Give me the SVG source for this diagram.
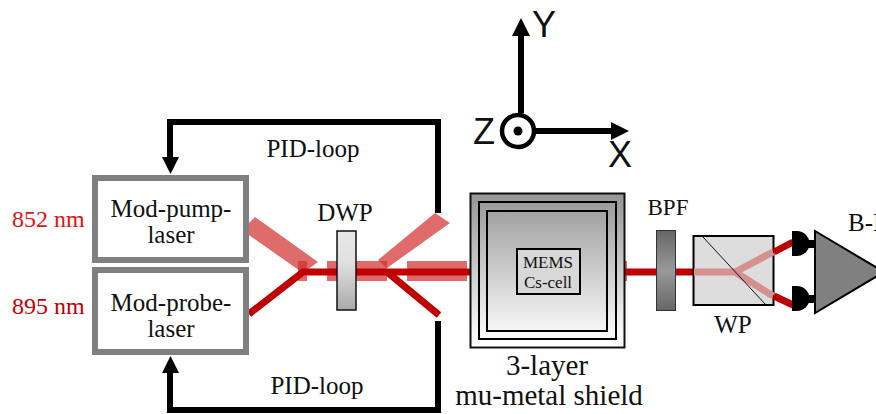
<svg xmlns="http://www.w3.org/2000/svg" width="876" height="414" viewBox="0 0 876 414">
<style>
text{font-family:"Liberation Serif","DejaVu Serif",serif;font-size:25px;fill:#111;text-anchor:middle}
.ax{font-family:"Liberation Sans","DejaVu Sans",sans-serif;font-size:36px;text-anchor:start}
.nm{text-anchor:start;font-size:24px}
.big{font-size:29px}
.small{font-size:17px}
.laser{fill:#fff;stroke:#808080;stroke-width:6}
.fb{fill:none;stroke:#000;stroke-width:6}
.thin{fill:none;stroke:#c00000;stroke-width:7}
.thick{fill:#d22c2c;fill-opacity:.7}
.pale{fill:none;stroke:#d69090;stroke-width:7}
.sh{fill:none;stroke:#000;stroke-width:2}
</style>
<defs>
<linearGradient id="gShield" x1="0" y1="0" x2="0" y2="1"><stop offset="0" stop-color="#959595"/><stop offset=".9" stop-color="#f8f8f8"/><stop offset="1" stop-color="#fff"/></linearGradient>
<linearGradient id="gDwp" x1="0" y1="0" x2="0" y2="1"><stop offset="0" stop-color="#e8e8e8"/><stop offset=".4" stop-color="#e0e0e0"/><stop offset="1" stop-color="#aaa"/></linearGradient>
<linearGradient id="gBpf" x1="0" y1="0" x2="0" y2="1"><stop offset="0" stop-color="#666"/><stop offset=".5" stop-color="#999"/><stop offset="1" stop-color="#666"/></linearGradient>
</defs>
<g id="connectors">
<path class="fb" d="M438 119V213M441 122H170V158"/>
<path d="M162 157H179L170.500 174Z"/>
<path class="fb" d="M438 321V413M441 410H170V372"/>
<path d="M162 373H179L170.500 356Z"/>
<g id="beams">
<polygon class="thick" points="255,217 318,262 303,273 246,233 246,226"/>
<rect class="thick" x="298" y="261" width="9" height="20"/>
<rect class="thick" x="327" y="261" width="60" height="20"/>
<rect class="thick" x="407" y="261" width="60" height="20"/>
<polygon class="thick" points="378,260 435,213 450,223 387,268"/>
<path class="thin" d="M249 314L303 272H470"/>
<path class="thin" d="M387 272L439 315"/>
<rect class="thick" x="625" y="261" width="2" height="20"/>
<path class="thin" d="M625 272H693"/>
</g>
<path d="M808 244H816M808 299H816" stroke="#000" stroke-width="8"/>
</g>
<g id="axes">
<path d="M521 113V35M536 131H612" fill="none" stroke="#000" stroke-width="6"/>
<path d="M512 36H530L521 18ZM611 122V140L629 131Z"/>
<circle cx="518" cy="131" r="16" fill="#fff" stroke="#000" stroke-width="4.500"/>
<circle cx="518" cy="131" r="4.500"/>
<text class="ax" x="532" y="37">Y</text>
<text class="ax" x="608" y="167">X</text>
<text class="ax" x="473" y="144">Z</text>
</g>
<g id="pump-laser"><rect class="laser" x="95" y="178" width="151" height="82"/>
<text x="171" y="217">Mod-pump-</text><text x="171" y="243">laser</text>
<text class="nm" x="12" y="227" style="fill:#e81010">852 nm</text></g>
<g id="probe-laser"><rect class="laser" x="95" y="270" width="151" height="82"/>
<text x="171" y="311">Mod-probe-</text><text x="171" y="337">laser</text>
<text class="nm" x="12" y="314" style="fill:#c00000">895 nm</text></g>
<g id="dwp"><rect x="337" y="231" width="19" height="79" fill="url(#gDwp)" stroke="#111" stroke-width="1.500"/>
<text x="345" y="221">DWP</text></g>
<g id="shield">
<rect x="470.500" y="193.500" width="154" height="154" fill="url(#gShield)" stroke="#111" stroke-width="2"/>
<rect class="sh" x="479" y="202" width="137" height="137"/>
<rect class="sh" x="487" y="211" width="120" height="120"/>
<text class="big" x="547" y="375">3-layer</text><text class="big" x="549" y="405">mu-metal shield</text>
</g>
<g id="cell"><rect x="517" y="249" width="63" height="45" fill="#d8d8d8" stroke="#000" stroke-width="2"/>
<text class="small" x="548" y="268">MEMS</text><text class="small" x="548" y="288">Cs-cell</text></g>
<g id="bpf"><rect x="656.500" y="230.500" width="19" height="80" fill="url(#gBpf)" stroke="#333"/>
<text x="668" y="215" style="font-size:23px">BPF</text></g>
<g id="wp"><rect x="693.500" y="236" width="80" height="69" fill="#ddd" stroke="#000" stroke-width="2"/>
<path class="pale" d="M694 272H735L773 252M735 272L773 296"/>
<path d="M702 236L766 305" stroke="#111" stroke-width="1"/>
<text x="733" y="333">WP</text></g>
<g id="exit-beams"><path class="thin" d="M774 252L793 242M774 296L793 305"/></g>
<g id="det1"><path d="M792 231H797A12.500 12.500 0 0 1 797 256H792Z"/></g>
<g id="det2"><path d="M792 286H797A12.500 12.500 0 0 1 797 311H792Z"/></g>
<g id="balanced"><polygon points="815,231 884,272 815,313" fill="#808080" stroke="#000" stroke-width="2"/>
<text x="848" y="231" style="text-anchor:start">B-I</text></g>
<g id="pid"><text x="313" y="157">PID-loop</text><text x="317" y="394">PID-loop</text></g>
</svg>
